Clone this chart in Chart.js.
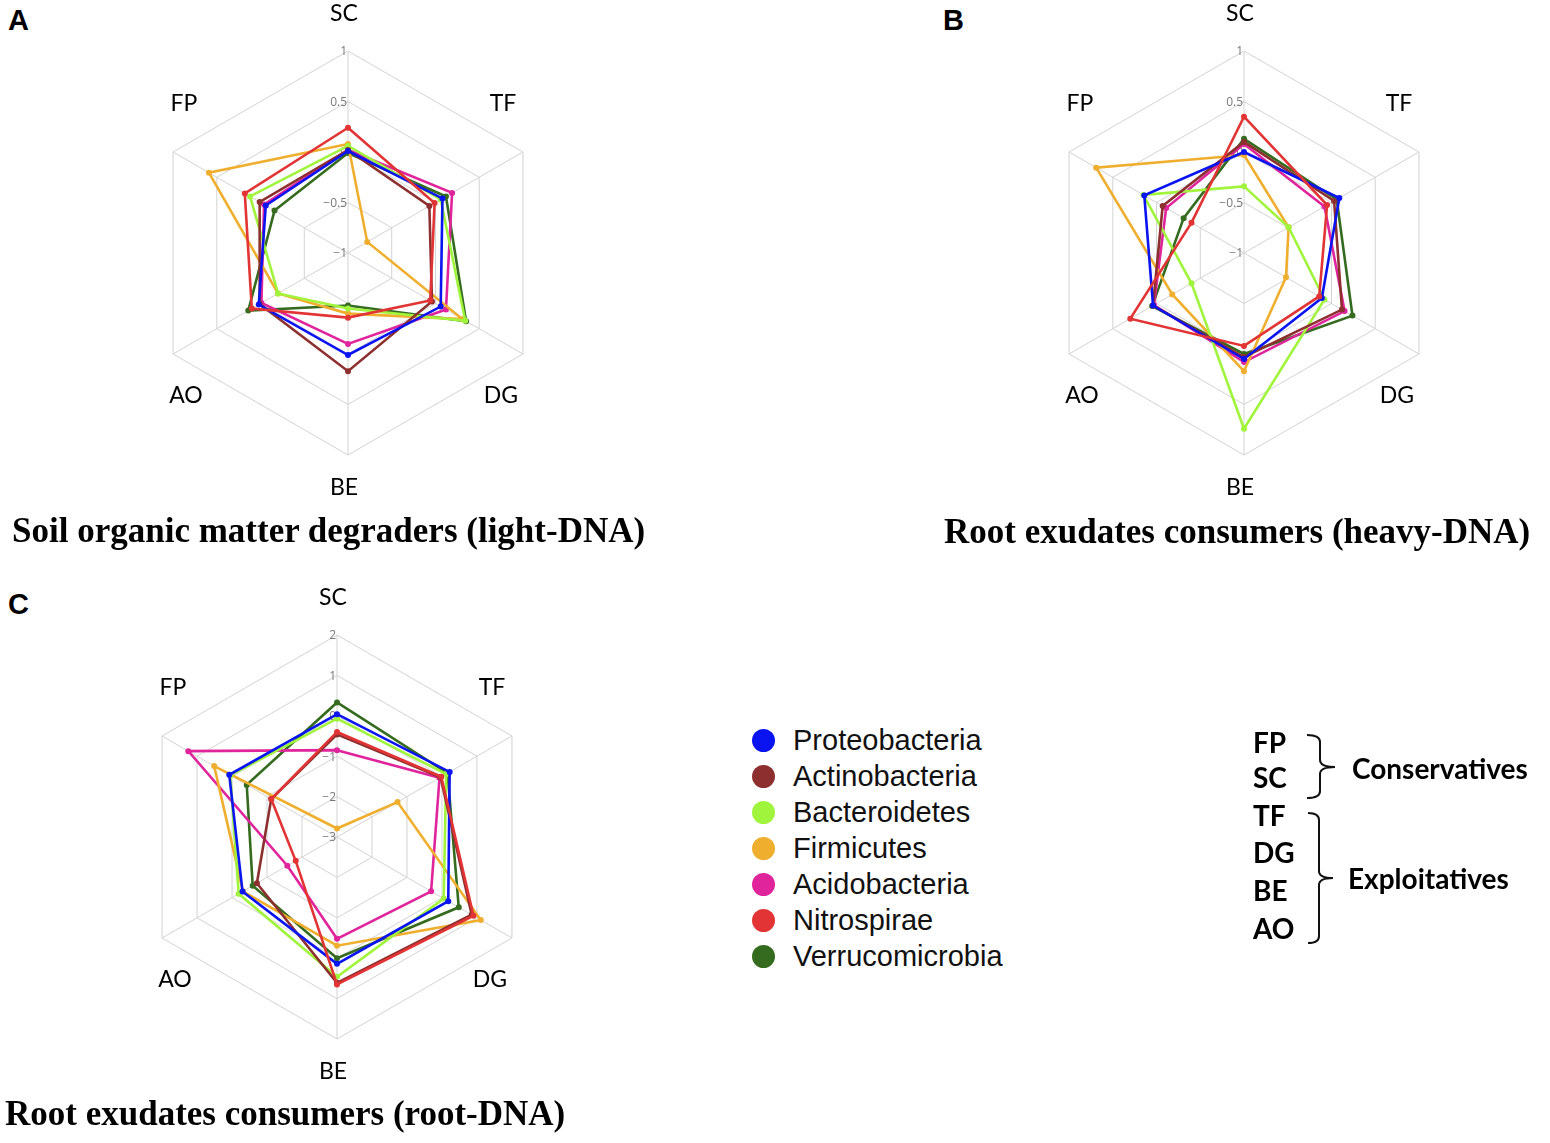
<!DOCTYPE html>
<html>
<head>
  <meta charset="UTF-8">
  <title>Radar charts - ecological strategies</title>
  <script src="https://cdn.jsdelivr.net/npm/chart.js"></script>
  <style>
    body {
      margin: 0;
      background: #ffffff;
      width: 1550px;
      height: 1143px;
      position: relative;
      overflow: hidden;
      font-family: 'Liberation Sans', Arial, sans-serif;
    }

    canvas {
      position: absolute;
    }

    .panel {
      position: absolute;
      font-family: 'Liberation Sans', Arial, sans-serif;
      font-weight: bold;
      font-size: 29px;
      line-height: 1;
      color: #000;
    }

    .title {
      position: absolute;
      font-family: 'Liberation Serif', 'Times New Roman', serif;
      font-weight: bold;
      font-size: 35px;
      line-height: 1;
      color: #000;
      white-space: nowrap;
    }

    #legend {
      position: absolute;
      left: 752px;
      top: 722px;
    }

    .legend-row {
      display: flex;
      align-items: center;
      height: 36px;
    }

    .legend-row span.dot {
      width: 23px;
      height: 23px;
      border-radius: 50%;
      margin-right: 18px;
    }

    .legend-row span.name {
      font-family: 'Liberation Sans', Arial, sans-serif;
      font-size: 29px;
      color: #111;
    }

    .strategy {
      position: absolute;
      font-family: Lato, 'Open Sans', sans-serif;
      font-weight: bold;
      font-size: 28px;
      line-height: 1;
      color: #000;
      white-space: nowrap;
    }

    svg {
      position: absolute;
      left: 0;
      top: 0;
    }
  </style>
</head>
<body>
  <div class="panel" style="left:8px; top:6px;">A</div>
  <div class="panel" style="left:943px; top:6px;">B</div>
  <div class="panel" style="left:8px; top:590px;">C</div>

  <canvas id="chartA" width="560" height="560" style="left:68px; top:-27px;"></canvas>
  <canvas id="chartB" width="560" height="560" style="left:964px; top:-27px;"></canvas>
  <canvas id="chartC" width="560" height="560" style="left:57px; top:557px;"></canvas>

  <div class="title" style="left:12px; top:513px;">Soil organic matter degraders (light-DNA)</div>
  <div class="title" style="left:944px; top:514px;">Root exudates consumers (heavy-DNA)</div>
  <div class="title" style="left:5px; top:1096px;">Root exudates consumers (root-DNA)</div>

  <div id="legend"></div>

  <svg width="1550" height="1143">
    <path id="brace1" fill="none" stroke="#111" stroke-width="2"></path>
    <path id="brace2" fill="none" stroke="#111" stroke-width="2"></path>
  </svg>
  <div id="strategies"></div>

  <script>
    // axes, clockwise from the top
    const axisLabels = ['SC', 'TF', 'DG', 'BE', 'AO', 'FP'];

    const phyla = ['Proteobacteria', 'Actinobacteria', 'Bacteroidetes', 'Firmicutes',
                   'Acidobacteria', 'Nitrospirae', 'Verrucomicrobia'];
    const phylaColors = ['#0a14f0', '#8e2f2f', '#a0f53c', '#f0ae2e', '#e0249c', '#e23434', '#356b1f'];

    // values per phylum, in axis order SC, TF, DG, BE, AO, FP
    // A - light-DNA
    const lightProteo  = [0.01, 0.08, 0.06, 0.01, 0.02, -0.06];
    const lightActino  = [0.02, -0.07, -0.04, 0.17, 0.01, 0.01];
    const lightBactero = [0.06, 0.06, 0.34, -0.45, -0.20, 0.12];
    const lightFirmi   = [0.08, -0.78, 0.31, -0.40, -0.20, 0.59];
    const lightAcido   = [0.02, 0.19, 0.12, -0.10, -0.01, -0.04];
    const lightNitro   = [0.24, -0.01, -0.06, -0.36, 0.10, 0.18];
    const lightVerruco = [-0.01, 0.12, 0.35, -0.48, 0.14, -0.16];

    // B - heavy-DNA
    const heavyProteo  = [0.00, 0.09, -0.11, 0.05, 0.04, 0.14];
    const heavyActino  = [0.10, 0.03, 0.12, 0.03, 0.04, -0.07];
    const heavyBactero = [-0.34, -0.49, -0.08, 0.74, -0.40, 0.15];
    const heavyFirmi   = [-0.03, -0.49, -0.52, 0.17, -0.18, 0.69];
    const heavyAcido   = [0.08, -0.08, 0.15, 0.08, 0.03, -0.11];
    const heavyNitro   = [0.35, -0.05, -0.14, -0.08, 0.30, -0.40];
    const heavyVerruco = [0.13, 0.06, 0.24, 0.00, 0.05, -0.31];

    // C - root-DNA
    const rootProteo  = [0.04, 0.22, 0.18, 0.14, -0.30, 0.08];
    const rootActino  = [-0.46, -0.04, 0.85, 0.61, -0.71, -1.12];
    const rootBactero = [-0.07, 0.12, 0.05, 0.46, -0.19, 0.05];
    const rootFirmi   = [-2.79, -1.27, 1.11, -0.31, -0.31, 0.51];
    const rootAcido   = [-0.85, -0.07, -0.31, -0.48, -1.58, 1.25];
    const rootNitro   = [-0.40, -0.02, 0.90, 0.65, -1.82, -1.12];
    const rootVerruco = [0.33, 0.16, 0.48, 0.00, -0.59, -0.42];

    const strategyLabels = ['FP', 'SC', 'TF', 'DG', 'BE', 'AO'];
    const strategyGroups = ['Conservatives', 'Exploitatives'];

    // where the axis names sit, as a share of the radius
    const labelOffsets = [
      [-0.02, -1.183], [0.767, -0.738], [0.757, 0.708],
      [-0.02, 1.163], [-0.802, 0.708], [-0.812, -0.738]
    ];

    const radarText = {
      id: 'radarText',
      beforeDatasetsDraw(chart) {
        const scale = chart.scales.r;
        const ctx = chart.ctx;
        ctx.save();
        ctx.font = '12px "Open Sans", sans-serif';
        ctx.fillStyle = '#7a7a7a';
        ctx.textAlign = 'right';
        ctx.textBaseline = 'middle';
        scale.ticks.forEach(t => {
          const y = scale.yCenter - scale.getDistanceFromCenterForValue(t.value);
          ctx.fillText(String(t.value).replace('-', '\u2212'), scale.xCenter - 1, y + 1);
        });
        ctx.font = '23px Lato, sans-serif';
        ctx.fillStyle = '#000';
        ctx.textAlign = 'center';
        chart.data.labels.forEach((lab, i) => {
          const [ox, oy] = labelOffsets[i];
          ctx.fillText(lab, scale.xCenter + ox * scale.drawingArea, scale.yCenter + oy * scale.drawingArea);
        });
        ctx.restore();
      }
    };

    function makeRadar(id, series, min, max, step) {
      new Chart(document.getElementById(id), {
        type: 'radar',
        data: {
          labels: axisLabels,
          datasets: series.map((values, i) => ({
            label: phyla[i],
            data: values,
            borderColor: phylaColors[i],
            backgroundColor: phylaColors[i],
            pointBackgroundColor: phylaColors[i],
            pointBorderWidth: 0,
            pointRadius: 3,
            borderWidth: 2.6,
            fill: false,
            order: phyla[i] === 'Nitrospirae' ? -1 : 0
          }))
        },
        options: {
          responsive: false,
          animation: false,
          layout: { padding: 78 },
          plugins: {
            legend: { display: false },
            tooltip: { enabled: false }
          },
          scales: {
            r: {
              min: min,
              max: max,
              ticks: { display: false, stepSize: step },
              pointLabels: { display: false },
              grid: { color: '#d3d3d3', lineWidth: 1 },
              angleLines: { color: '#d3d3d3', lineWidth: 1 }
            }
          }
        },
        plugins: [radarText]
      });
    }

    makeRadar('chartA', [lightProteo, lightActino, lightBactero, lightFirmi, lightAcido, lightNitro, lightVerruco], -1, 1, 0.5);
    makeRadar('chartB', [heavyProteo, heavyActino, heavyBactero, heavyFirmi, heavyAcido, heavyNitro, heavyVerruco], -1, 1, 0.5);
    makeRadar('chartC', [rootProteo, rootActino, rootBactero, rootFirmi, rootAcido, rootNitro, rootVerruco], -3, 2, 1);

    // legend
    const legend = document.getElementById('legend');
    phyla.forEach((name, i) => {
      const row = document.createElement('div');
      row.className = 'legend-row';
      row.innerHTML = `<span class="dot" style="background:${phylaColors[i]}"></span><span class="name">${name}</span>`;
      legend.appendChild(row);
    });

    // strategy block
    const strat = document.getElementById('strategies');
    const rowY = [742, 777, 815, 852, 890, 928];
    strategyLabels.forEach((lab, i) => {
      const d = document.createElement('div');
      d.className = 'strategy';
      d.style.left = '1253px';
      d.style.top = (rowY[i] - 14) + 'px';
      d.textContent = lab;
      strat.appendChild(d);
    });
    const groupPos = [[1352, 768], [1348, 878]];
    strategyGroups.forEach((g, i) => {
      const d = document.createElement('div');
      d.className = 'strategy';
      d.style.left = groupPos[i][0] + 'px';
      d.style.top = (groupPos[i][1] - 14) + 'px';
      d.textContent = g;
      strat.appendChild(d);
    });

    function bracePath(x0, spine, tip, y0, ymid, y1) {
      const r = 7;
      return `M${x0},${y0} Q${spine},${y0} ${spine},${y0 + r} L${spine},${ymid - r} ` +
             `Q${spine},${ymid} ${tip},${ymid} Q${spine},${ymid} ${spine},${ymid + r} ` +
             `L${spine},${y1 - r} Q${spine},${y1} ${x0},${y1}`;
    }
    document.getElementById('brace1').setAttribute('d', bracePath(1307, 1320, 1335, 735, 767, 798));
    document.getElementById('brace2').setAttribute('d', bracePath(1308, 1319, 1333, 813, 878, 943));
  </script>
</body>
</html>
